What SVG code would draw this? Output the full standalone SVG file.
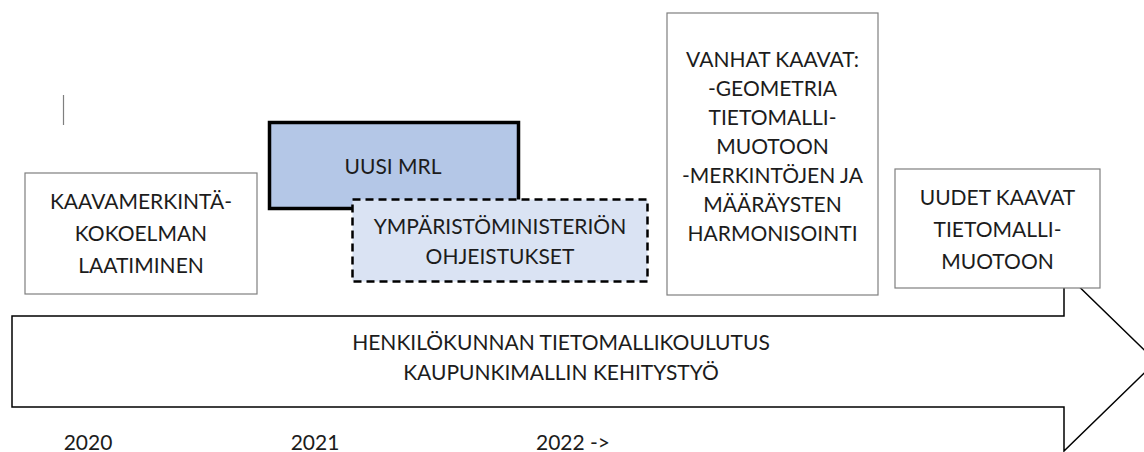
<svg xmlns="http://www.w3.org/2000/svg" width="1144" height="452" viewBox="0 0 1144 452">
  <style>
    text { font-family: Lato, "Open Sans", "Liberation Sans", sans-serif; font-size: 21px; fill: #1c1c1c; text-anchor: middle; }
    .plain { fill: #ffffff; stroke: #7f7f7f; stroke-width: 1.2; }
  </style>
  <rect width="1144" height="452" fill="#ffffff"/>

  <!-- stray cursor mark -->
  <line x1="63.5" y1="95" x2="63.5" y2="125" stroke="#7f7f7f" stroke-width="1.2"/>

  <!-- timeline arrow -->
  <g id="timeline">
    <path d="M12,316 H1064 V272 L1156,361.5 L1064,451 V407 H12 Z" fill="#ffffff" stroke="#000000" stroke-width="1.5" stroke-linejoin="miter"/>
    <text x="561" y="350">HENKILÖKUNNAN TIETOMALLIKOULUTUS</text>
    <text x="561" y="380">KAUPUNKIMALLIN KEHITYSTYÖ</text>
  </g>

  <g id="kaavamerkinta">
    <rect class="plain" x="25" y="173" width="232" height="121"/>
    <text x="141" y="209">KAAVAMERKINTÄ-</text>
    <text x="141" y="241">KOKOELMAN</text>
    <text x="141" y="273">LAATIMINEN</text>
  </g>

  <g id="uusi-mrl">
    <rect x="269.5" y="122.5" width="249" height="86" fill="#b4c7e7" stroke="#000000" stroke-width="3.5"/>
    <text x="393" y="174">UUSI MRL</text>
  </g>

  <g id="ohjeistukset">
    <rect x="352.5" y="199.5" width="295" height="82" fill="#dae3f3" stroke="#000000" stroke-width="2.5" stroke-dasharray="8,5"/>
    <text x="500" y="234">YMPÄRISTÖMINISTERIÖN</text>
    <text x="500" y="264">OHJEISTUKSET</text>
  </g>

  <g id="vanhat-kaavat">
    <rect class="plain" x="667" y="13" width="211" height="282"/>
    <text x="772.5" y="67">VANHAT KAAVAT:</text>
    <text x="772.5" y="96">-GEOMETRIA</text>
    <text x="772.5" y="125">TIETOMALLI-</text>
    <text x="772.5" y="154">MUOTOON</text>
    <text x="772.5" y="183">-MERKINTÖJEN JA</text>
    <text x="772.5" y="212">MÄÄRÄYSTEN</text>
    <text x="772.5" y="241">HARMONISOINTI</text>
  </g>

  <g id="uudet-kaavat">
    <rect class="plain" x="895" y="169" width="205" height="119"/>
    <text x="997.5" y="205">UUDET KAAVAT</text>
    <text x="997.5" y="237">TIETOMALLI-</text>
    <text x="997.5" y="269">MUOTOON</text>
  </g>

  <g id="years">
    <text x="88" y="450">2020</text>
    <text x="315" y="450">2021</text>
    <text x="573" y="450">2022 -&gt;</text>
  </g>
</svg>
